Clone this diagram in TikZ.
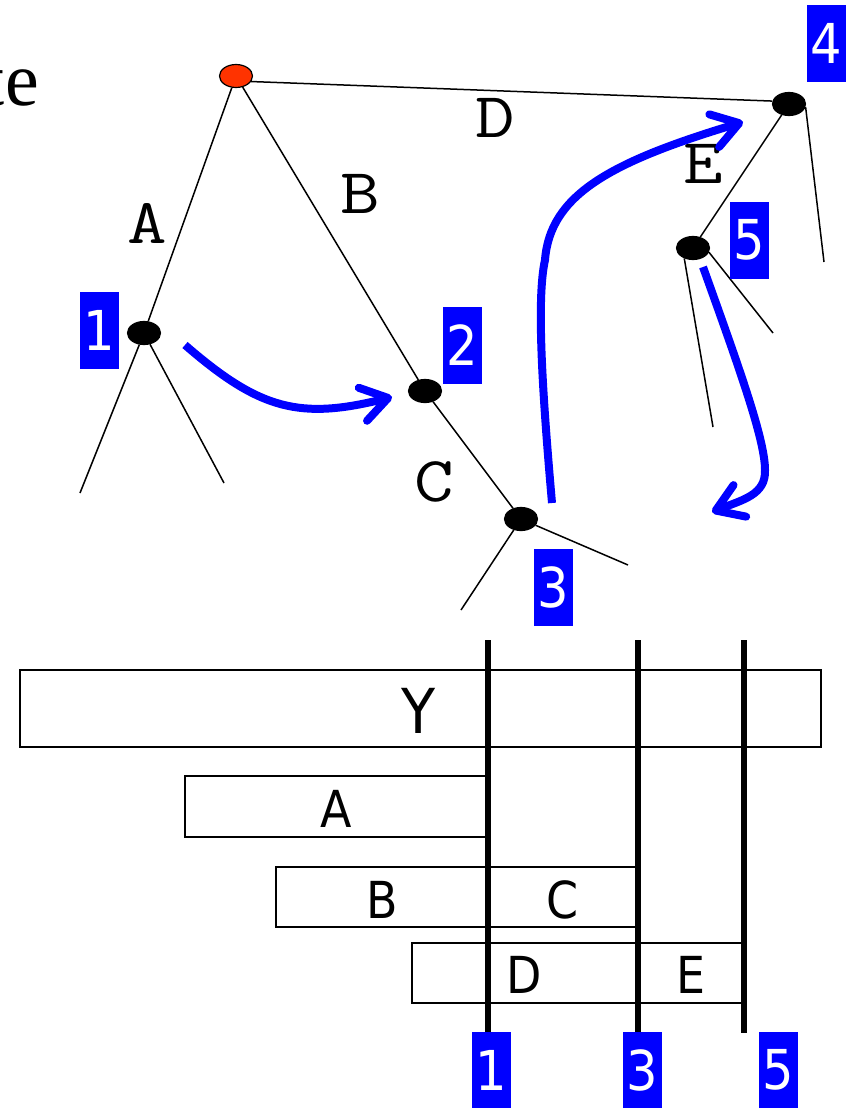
\documentclass[tikz,border=0pt]{standalone}
\usepackage{fontspec}
\setmainfont{Liberation Serif}
\newfontfamily\labfont[FakeStretch=0.9]{DejaVu Sans}
\newfontfamily\courfont[FakeStretch=1.2]{Latin Modern Mono}
\usetikzlibrary{arrows.meta,shapes.geometric}
\definecolor{pblue}{RGB}{0,0,255}
\definecolor{pred}{RGB}{255,51,0}
\begin{document}
\begin{tikzpicture}[x=1pt,y=-1pt,
  vert/.style={ellipse,draw=black,fill=black,minimum width=33pt,minimum height=23pt,inner sep=0pt,line width=1.2pt},
  rootv/.style={vert,fill=pred},
  edge/.style={line width=1.5pt},
  tag/.style={fill=pblue,text=white,minimum width=39pt,minimum height=77pt,inner sep=0pt,font=\labfont\fontsize{55}{55}\selectfont},
  elab/.style={font=\courfont\fontsize{64}{64}\selectfont,inner sep=0pt,anchor=base},
  blab/.style={font=\labfont\fontsize{51}{51}\selectfont,inner sep=0pt,anchor=base},
  bar/.style={line width=1.5pt},
  cut/.style={line width=6.5pt},
  move/.style={draw=pblue,line width=8pt,-{Straight Barb[length=26pt,width=34pt,round]}}
]
\useasboundingbox (0,0) rectangle (848,1108);

% partial title text
\node[font=\rmfamily\fontsize{76}{76}\selectfont,inner sep=0pt,anchor=base east] (title) at (39,105) {te};

% tree vertices
\node[rootv] (r) at (236,76) {};
\node[vert] (n1) at (144,333) {};
\node[vert] (n2) at (425,391) {};
\node[vert] (n3) at (521,519) {};
\node[vert] (n4) at (789,104) {};
\node[vert] (n5) at (693,248) {};

% leaf ends
\coordinate (l1a) at (80,493);
\coordinate (l1b) at (224,483);
\coordinate (l3a) at (461,610);
\coordinate (l3b) at (628,565);
\coordinate (l4a) at (824,262);
\coordinate (l5a) at (713,427);
\coordinate (l5b) at (773,333);

% tree edges
\draw[edge] (r) -- (n1);
\draw[edge] (r) -- (n2);
\draw[edge] (r.-20) -- (n4.170);
\draw[edge] (n4) -- (n5);
\draw[edge] (n2) -- (n3);
\draw[edge] (n1) -- (l1a);
\draw[edge] (n1) -- (l1b);
\draw[edge] (n3) -- (l3a);
\draw[edge] (n3) -- (l3b);
\draw[edge] (n4.-10) -- (l4a);
\draw[edge] (n5.-130) -- (l5a);
\draw[edge] (n5.-15) -- (l5b);

% edge labels
\node[elab] (la) at (147.5,243) {A};
\node[elab] (lb) at (360,213) {B};
\node[elab] (ld) at (495,137) {D};
\node[elab] (le) at (703.5,183) {E};
\node[elab] (lc) at (434.5,501) {C};

% number tags in tree
\node[tag] (t1) at (99.5,330.5) {1};
\node[tag] (t2) at (462.5,345) {2};
\node[tag] (t3) at (553.5,587.5) {3};
\node[tag] (t4) at (826,43.5) {4};
\node[tag] (t5) at (749.5,240) {5};

% blue moves
\coordinate (a1s) at (185,345);
\coordinate (a1e) at (392,397);
\coordinate (a2s) at (552,503);
\coordinate (a2m) at (545,260);
\coordinate (a2e) at (743,122);
\coordinate (a3s) at (703,267);
\coordinate (a3m) at (765,470);
\coordinate (a3e) at (712,512);
\draw[move] (a1s) .. controls (260,410) and (300,420) .. (a1e);
\draw[move] (a2s) .. controls (543,400) and (536,300) .. (a2m) .. controls (550,195) and (610,162) .. (a2e);
\draw[move] (a3s) .. controls (740,370) and (765,440) .. (a3m) .. controls (766,495) and (742,500) .. (a3e);

% bottom boxes
\draw[bar] (20,670) rectangle (821,747);
\draw[bar] (185,776) rectangle (488,837);
\draw[bar] (276,867) rectangle (638,927);
\draw[bar] (412,943) rectangle (743,1003);

\node[blab,font=\labfont\fontsize{62}{62}\selectfont] (ly) at (419,733) {Y};
\node[blab] (ba) at (336.5,827) {A};
\node[blab] (bb) at (382,918) {B};
\node[blab] (bc) at (562.5,918) {C};
\node[blab] (bd) at (524.5,993) {D};
\node[blab] (be) at (690.5,993) {E};

% cut lines
\coordinate (c1) at (488,640);
\coordinate (c3) at (638,640);
\coordinate (c5) at (744,640);
\coordinate (d1) at (488,1033);
\coordinate (d3) at (638,1033);
\coordinate (d5) at (744,1033);
\draw[cut] (c1) -- (d1);
\draw[cut] (c3) -- (d3);
\draw[cut] (c5) -- (d5);

\node[tag] (b1) at (491,1070) {1};
\node[tag] (b3) at (642,1070) {3};
\node[tag] (b5) at (778,1070) {5};
\end{tikzpicture}
\end{document}
